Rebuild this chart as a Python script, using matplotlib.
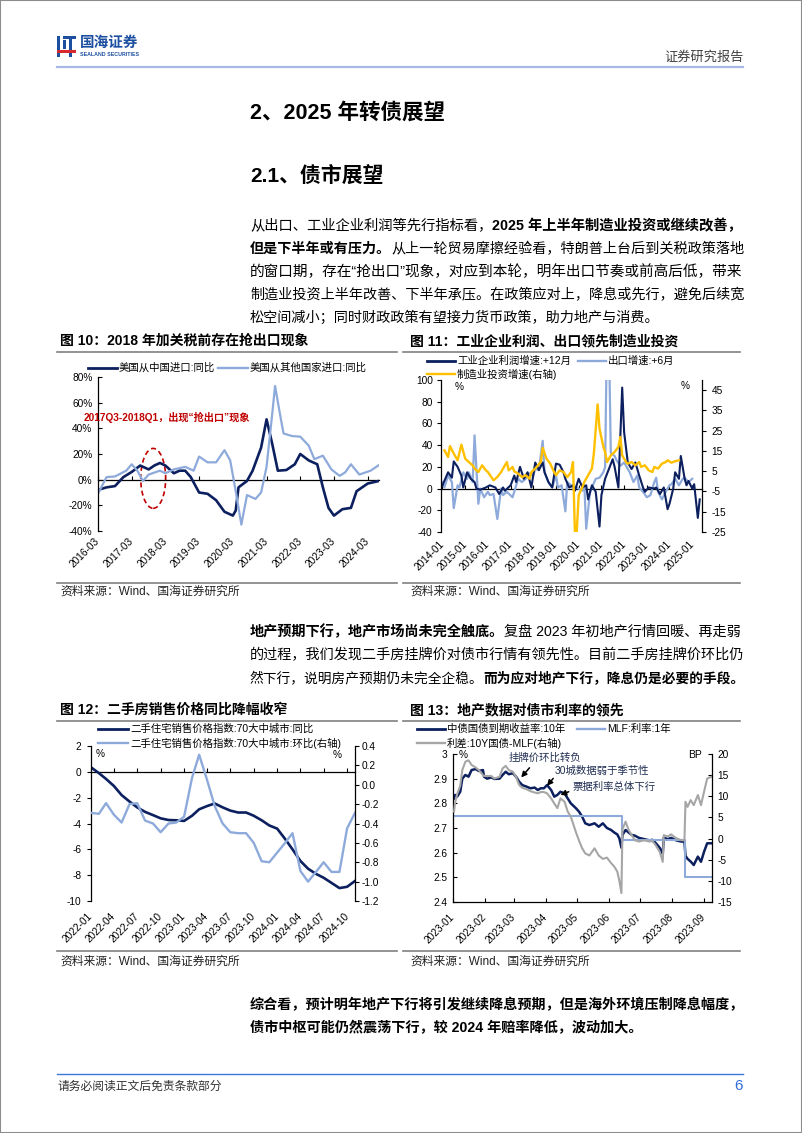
import pandas as pd
import matplotlib
matplotlib.use('Agg')
import matplotlib.pyplot as plt
import matplotlib.dates as mdates
from matplotlib.lines import Line2D
from matplotlib.patches import Ellipse, Rectangle

plt.rcParams['font.family'] = ['Liberation Sans', 'Noto Sans CJK SC', 'DejaVu Sans']
plt.rcParams['axes.unicode_minus'] = False

# ---------------- 数据 ----------------
# 图10 美国进口同比(%)
c10_cn_dates = ['2016-03', '2016-06', '2016-09', '2016-12', '2017-03', '2017-06', '2017-09', '2017-11',
                '2018-01', '2018-03', '2018-06', '2018-08', '2018-10', '2018-12', '2019-03', '2019-06',
                '2019-09', '2019-12', '2020-03', '2020-04', '2020-05', '2020-08', '2020-10', '2021-01',
                '2021-03', '2021-05', '2021-07', '2021-10', '2022-01', '2022-03', '2022-06', '2022-09',
                '2022-11', '2023-01', '2023-03', '2023-06', '2023-09', '2023-11', '2024-03', '2024-07']
c10_cn = [-8, -6, -5, 2, 6, 11, 8, 11, 13, 11, 5, 7, 7, 2, -10, -11, -16, -25, -28, -24,
          -6, -1, 7, 25, 47, 28, 7, 7.5, 12, 20, 15, 12, -6, -22, -28, -23, -22, -9, -3, -1]
c10_ot_dates = ['2016-03', '2016-06', '2016-09', '2017-01', '2017-03', '2017-05', '2017-07', '2017-09',
                '2018-01', '2018-03', '2018-06', '2018-10', '2019-01', '2019-03', '2019-06', '2019-09',
                '2019-12', '2020-02', '2020-04', '2020-06', '2020-08', '2020-11', '2021-01', '2021-03',
                '2021-05', '2021-06', '2021-08', '2021-09', '2021-12', '2022-03', '2022-06', '2022-08',
                '2022-11', '2023-02', '2023-05', '2023-07', '2023-09', '2023-12', '2024-04', '2024-07']
c10_ot = [-11, 2, 2.5, 7, 12, 7, -1, 4, 7, 5, 8, 10, 7, 18, 13.5, 13.5, 23, 15, -9, -35,
          -12, -15, -10, 10, 51, 73, 48, 36, 34, 33.5, 26.5, 16, 18.7, 8, 3, 5.7, 12, 4, 7, 11.4]
c10_labels = ['美国从中国进口:同比', '美国从其他国家进口:同比']
c10_ticks = ['2016-03', '2017-03', '2018-03', '2019-03', '2020-03', '2021-03', '2022-03', '2023-03', '2024-03']

# 图11 (月份序号, 以2014-01为0)
c11_profit_m = [0, 3, 5, 6, 8, 10, 11, 13, 15, 17, 18, 20, 23, 25, 28, 30, 32, 33, 36, 38, 39, 41, 43, 45, 47,
                49, 51, 53, 54, 56, 58, 60, 62, 64, 65, 67, 69, 70, 72, 74, 76, 77, 79, 81, 83, 84, 86, 88,
                90, 91, 93, 95, 96, 98, 100, 102, 104, 106, 107, 109, 112, 113, 115, 117, 119, 120, 122,
                123, 125, 126, 128, 129, 130, 132, 133, 135, 136]
c11_profit = [3, 15, 10, 25, 20, 12, 1, 15, 9, 6, 0, -1, 1, 3, 1, -5, 1, -2, 3, 12, 6, 20, 9, 15, 1,
              24, 17, 24, 15, 6, 1, 23, 22, 15, 9, 1, 3, -2, 9, 1, 3, -10, 3, -3, -35, -6, 9, 18,
              27, 20, 1, 93, 52, 24, 18, 24, 12, 1, -3, 1, 0, 1, -5, 1, -19, -14, 0,
              15, 9, 30, 9, 3, 7, 0, 4, -27, -10]
c11_export_m = [0, 1, 3, 5, 6, 8, 9, 11, 13, 14, 16, 17, 19, 20, 22, 24, 25, 27, 29, 31, 32, 34, 37, 39, 40,
                42, 44, 46, 48, 49, 51, 53, 54, 56, 58, 60, 61, 63, 65, 66, 68, 69, 71, 74, 75, 76, 78, 79,
                81, 83, 85, 86, 87, 88, 89, 91, 92, 94, 96, 97, 99, 101, 103, 104, 106, 108, 110, 112, 113,
                114, 116, 118, 120, 121, 123, 125, 127, 128, 130, 132]
c11_export = [6, 1, 12, 6, -18, 3, 1, 15, 9, 15, 6, 49, -14, 0, -8, -3, -6, -5, -28, 0, -6, -3, -8, 3, 9,
              6, 9, 14, 12, 18, 17, 44, 15, 6, 1, 12, 1, 3, -21, 6, 3, 0, 1, -2, 3, -37, -3, 1,
              9, 10, 15, 20, 150, 140, 33, 30, 26, 21, 24, 21, 15, 6, 12, 1, -3, -8, -6, 6, 10,
              -3, -10, -3, 3, 4, 9, 3, 9, 10, 6, 9]
c11_invest_m = [1, 3, 4, 6, 8, 10, 12, 14, 16, 17, 19, 21, 23, 24, 27, 29, 31, 32, 34, 35, 37, 38, 40, 42, 44,
                46, 47, 49, 52, 53, 55, 57, 59, 60, 62, 64, 66, 68, 69, 70, 71, 72, 74, 75, 77, 79, 80, 82,
                83, 85, 86, 87, 89, 91, 93, 94, 95, 97, 98, 100, 102, 104, 105, 107, 109, 111, 112, 114,
                116, 118, 119, 121, 123, 125]
c11_invest = [15.3, 12, 17.4, 13.7, 10.4, 18.1, 11.2, 9.5, 7.9, 6.3, 4.6, 7.9, 5.4, 4.6, 0.5, 2.1, 4.6, 6.3,
              9.5, 5.4, 7.1, 4.9, 3.8, 2.1, 3.0, 1.3, 4.6, 6.3, 9.5, 16.5, 11.2, 8.7, 4.6, 3.0, 5.4, 4.6,
              2.1, 4.6, 9.5, -24.7, -24.7, -6.9, -2.8, -0.3, 3.0, 6.3, 13.7, 38, 26, 17, 14.5, 9.5, 12.8,
              14.5, 17, 21.9, 12.8, 9.5, 8.7, 9.5, 7.9, 9.5, 7.1, 7.9, 5.4, 4.6, 7.1, 6.3, 8.7, 9.5, 10.4,
              9.2, 9.9, 10.4]
c11_labels = ['工业企业利润增速:+12月', '出口增速:+6月', '制造业投资增速(右轴)']
c11_ticks = ['2014-01', '2015-01', '2016-01', '2017-01', '2018-01', '2019-01', '2020-01', '2021-01',
             '2022-01', '2023-01', '2024-01', '2025-01']

# 图12 二手住宅价格
c12_months = pd.date_range('2022-01', periods=35, freq='MS').strftime('%Y-%m').tolist()
c12_yoy = [0.35, -0.1, -0.55, -1.1, -1.8, -2.3, -2.75, -3.1, -3.35, -3.6, -3.73, -3.75, -3.8, -3.4, -2.9,
           -2.65, -2.45, -2.75, -3.0, -3.15, -3.15, -3.4, -3.75, -4.15, -4.4, -5.2, -6.0, -6.9, -7.5, -7.9,
           -8.2, -8.6, -9.0, -8.9, -8.45]
c12_mom = [-0.29, -0.30, -0.19, -0.31, -0.39, -0.20, -0.19, -0.37, -0.40, -0.49, -0.40, -0.39, -0.33, 0.07,
           0.31, 0.05, -0.22, -0.40, -0.49, -0.50, -0.50, -0.60, -0.79, -0.80, -0.70, -0.60, -0.50, -0.89,
           -1.00, -0.90, -0.80, -0.90, -0.90, -0.45, -0.29]
c12_labels = ['二手住宅销售价格指数:70大中城市:同比', '二手住宅销售价格指数:70大中城市:环比(右轴)']
c12_ticks = ['2022-01', '2022-04', '2022-07', '2022-10', '2023-01', '2023-04', '2023-07', '2023-10',
             '2024-01', '2024-04', '2024-07', '2024-10']

# 图13 债市利率
c13_dates = ['2023-01-02', '2023-01-03', '2023-01-05', '2023-01-08', '2023-01-10', '2023-01-13', '2023-01-16',
             '2023-01-19', '2023-01-23', '2023-01-26', '2023-01-30', '2023-01-31', '2023-02-03', '2023-02-07',
             '2023-02-10', '2023-02-15', '2023-02-18', '2023-02-21', '2023-02-24', '2023-02-28', '2023-03-03',
             '2023-03-06', '2023-03-09', '2023-03-13', '2023-03-17', '2023-03-21', '2023-03-24', '2023-03-27',
             '2023-03-30', '2023-04-02', '2023-04-06', '2023-04-09', '2023-04-12', '2023-04-15', '2023-04-19',
             '2023-04-22', '2023-04-25', '2023-04-30', '2023-05-03', '2023-05-06', '2023-05-09', '2023-05-13',
             '2023-05-18', '2023-05-22', '2023-05-26', '2023-05-30', '2023-06-03', '2023-06-06', '2023-06-09',
             '2023-06-11', '2023-06-13', '2023-06-14', '2023-06-17', '2023-06-20', '2023-06-23', '2023-06-26',
             '2023-06-30', '2023-07-05', '2023-07-10', '2023-07-13', '2023-07-16', '2023-07-20', '2023-07-23',
             '2023-07-24', '2023-07-28', '2023-07-31', '2023-08-05', '2023-08-10', '2023-08-13', '2023-08-14',
             '2023-08-16', '2023-08-19', '2023-08-22', '2023-08-26', '2023-08-29', '2023-09-01', '2023-09-04',
             '2023-09-08']
c13_yield = [2.82, 2.834, 2.827, 2.847, 2.90, 2.915, 2.908, 2.935, 2.939, 2.931,
             2.935, 2.908, 2.90, 2.905, 2.899, 2.90, 2.915, 2.928, 2.918, 2.922,
             2.908, 2.888, 2.874, 2.868, 2.861, 2.864, 2.854, 2.861, 2.861, 2.874,
             2.854, 2.827, 2.834, 2.847, 2.84, 2.82, 2.80, 2.78, 2.766, 2.746,
             2.719, 2.712, 2.719, 2.705, 2.719, 2.70, 2.692, 2.682, 2.674, 2.658,
             2.62, 2.672, 2.692, 2.682, 2.672, 2.669, 2.66, 2.655, 2.65, 2.652,
             2.64, 2.62, 2.595, 2.66, 2.655, 2.66, 2.65, 2.645, 2.645, 2.587,
             2.575, 2.564, 2.55, 2.584, 2.563, 2.604, 2.638, 2.638]
c13_spread = [6.4, 8.5, 10.5, 12.5, 16.2, 18.2, 18.5, 17.4, 16.8, 16.2,
              15.0, 14.8, 14.8, 14.8, 14.2, 14.6, 16.6, 17.2, 16.2, 15.8,
              14.6, 12.7, 12.0, 11.7, 11.2, 10.9, 10.7, 11.0, 11.0, 10.7,
              9.5, 8.3, 7.2, 9.5, 8.7, 6.4, 5.2, 1.5, -0.5, -2.3,
              -3.5, -4.0, -2.3, -4.0, -4.8, -4.5, -5.8, -6.6, -7.8, -10.0,
              -12.9, 2.2, 4.0, 2.0, 0.8, -0.4, -0.7, -0.4, -0.7, -0.6,
              -1.5, -3.1, -5.5, 0.8, 0.5, 1.0, 0.1, -0.4, -0.4, 8.7,
              7.5, 9.1, 7.9, 10.3, 7.9, 11.1, 14.2, 14.6]
c13_mlf_dates = ['2023-01-01', '2023-06-14', '2023-08-14', '2023-09-09']
c13_mlf = [2.75, 2.65, 2.50, 2.50]
c13_labels = ['中债国债到期收益率:10年', 'MLF:利率:1年', '利差:10Y国债-MLF(右轴)']
c13_ticks = ['2023-01', '2023-02', '2023-03', '2023-04', '2023-05', '2023-06', '2023-07', '2023-08', '2023-09']

# ---------------- 样式 ----------------
W, H = 802, 1133
NAVY = '#0c1f5e'
LBLUE = '#8eaadb'
GOLD = '#ffc000'
GRAY = '#a6a6a6'
RED = '#c00000'
TICK = 7.3
BODY = 10.5

fig = plt.figure(figsize=(W / 100, H / 100), dpi=100)
fig.patch.set_facecolor('white')


def fx(x):
    return x / W


def fy(y):
    return 1 - y / H


def add_ax(l, t, r, b):
    return fig.add_axes([fx(l), fy(b), (r - l) / W, (b - t) / H])


def hline(x0, x1, y, color, lw):
    fig.add_artist(Line2D([fx(x0), fx(x1)], [fy(y), fy(y)], color=color, lw=lw,
                          transform=fig.transFigure))


def ftext(x, y, s, **kw):
    kw.setdefault('va', 'center')
    return fig.text(fx(x), fy(y), s, **kw)


def legend_item(x0, x1, y, color, lw, label):
    hline(x0, x1, y, color, lw)
    ftext(x1 + 2, y, label, fontsize=7.5)


def month_dates(offsets, base='2014-01'):
    p = pd.Period(base, freq='M')
    return [(p + int(o)).to_timestamp() for o in offsets]


def d2n(s):
    return mdates.date2num(pd.Timestamp(s))


def style_x(ax, ticks, xlim, pad, hide_bottom=True):
    for s in ('top', 'right'):
        ax.spines[s].set_visible(False)
    ax.spines['bottom'].set_visible(not hide_bottom)
    ax.spines['left'].set_linewidth(0.9)
    ax.set_xlim(d2n(xlim[0]), d2n(xlim[1]))
    ax.set_xticks([d2n(t) for t in ticks])
    ax.set_xticklabels(ticks, rotation=45, ha='right', va='center', rotation_mode='anchor',
                       fontsize=TICK)
    if hide_bottom:
        ax.tick_params(axis='x', length=0, pad=pad)
    else:
        ax.spines['bottom'].set_linewidth(0.9)
        ax.tick_params(axis='x', direction='in', length=3, width=0.8, pad=pad)


def zero_line(ax, ticks):
    lo, hi = ax.get_ylim()
    pos = (0 - lo) / (hi - lo)
    sec = ax.secondary_xaxis(pos)
    sec.set_xticks([d2n(t) for t in ticks])
    sec.set_xticklabels([])
    sec.tick_params(direction='in' if pos < 0.5 else 'out', length=3, width=0.8)
    for sp in sec.spines.values():
        sp.set_linewidth(0.9)


def style_right(tw, direction, pad):
    for s in ('top', 'left', 'bottom'):
        tw.spines[s].set_visible(False)
    tw.spines['right'].set_linewidth(0.9)
    tw.tick_params(axis='y', direction=direction, length=3, width=0.8, labelsize=TICK, pad=pad)


def rich_line(x, y, parts, width=None, size=BODY):
    # 两端对齐：按目标宽度微调字号
    r = fig.canvas.get_renderer()
    texts = [ftext(x, y, s, fontsize=size, fontweight='bold' if b else 'normal', color='black')
             for s, b in parts]
    widths = [t.get_window_extent(renderer=r).width for t in texts]
    if width is not None:
        k = min(max(width / sum(widths), 0.88), 1.03)
        for t in texts:
            t.set_fontsize(size * k)
        widths = [t.get_window_extent(renderer=r).width for t in texts]
    cx = x
    for t, w in zip(texts, widths):
        t.set_x(fx(cx))
        cx += w


# ---------------- 页面框架 ----------------
fig.add_artist(Rectangle((0, 0), 1, 1, transform=fig.transFigure, fill=False,
                         edgecolor='#8c8c8c', lw=1.5))
# logo
for (x0, y0, x1, y1, c) in [(57, 36, 60, 57, '#1c4fa0'), (63, 40, 66, 49, '#1c4fa0'),
                            (69, 36, 72, 57, '#1c4fa0'), (57, 50, 76, 53, '#d7282f'),
                            (63, 36, 76, 38.5, '#1c4fa0')]:
    fig.add_artist(Rectangle((fx(x0), fy(y1)), (x1 - x0) / W, (y1 - y0) / H,
                             transform=fig.transFigure, color=c, lw=0))
ftext(80, 43, '国海证券', fontsize=10.5, fontweight='bold', color='#1c4fa0')
ftext(80, 55, 'SEALAND SECURITIES', fontsize=3.8, fontweight='bold', color='#1c4fa0')
ftext(744, 57, '证券研究报告', fontsize=9.5, ha='right', color='#404040')
hline(57, 743, 67, '#a9b9e6', 1.6)

ftext(250, 113, '2、2025 年转债展望', fontsize=15.5, fontweight='bold')
ftext(250, 176, '2.1、债市展望', fontsize=15, fontweight='bold')

X0, TW = 250, 495
rich_line(X0, 226, [('从出口、工业企业利润等先行指标看，', False), ('2025 年上半年制造业投资或继续改善，', True)], TW)
rich_line(X0, 249, [('但是下半年或有压力。', True), ('从上一轮贸易摩擦经验看，特朗普上台后到关税政策落地', False)], TW)
rich_line(X0, 272, [('的窗口期，存在“抢出口”现象，对应到本轮，明年出口节奏或前高后低，带来', False)], TW)
rich_line(X0, 295, [('制造业投资上半年改善、下半年承压。在政策应对上，降息或先行，避免后续宽', False)], TW)
rich_line(X0, 318, [('松空间减小；同时财政政策有望接力货币政策，助力地产与消费。', False)], size=10.2)

rich_line(X0, 632, [('地产预期下行，地产市场尚未完全触底。', True), ('复盘 2023 年初地产行情回暖、再走弱', False)], TW)
rich_line(X0, 655, [('的过程，我们发现二手房挂牌价对债市行情有领先性。目前二手房挂牌价环比仍', False)], TW)
rich_line(X0, 678, [('然下行，说明房产预期仍未完全企稳。', False), ('而为应对地产下行，降息仍是必要的手段。', True)], TW)

rich_line(X0, 1005, [('综合看，预计明年地产下行将引发继续降息预期，但是海外环境压制降息幅度，', True)], TW)
rich_line(X0, 1028, [('债市中枢可能仍然震荡下行，较 2024 年赔率降低，波动加大。', True)], size=10.2)

hline(57, 743, 1074, '#3a78d8', 1.0)
ftext(57, 1087, '请务必阅读正文后免责条款部分', fontsize=8.5, color='#333333')
ftext(743, 1086, '6', fontsize=11, ha='right', color='#2e6fd8')

# 图表标题与来源
for (x, y, s) in [(60, 341, '图 10：2018 年加关税前存在抢出口现象'),
                  (410, 341, '图 11：工业企业利润、出口领先制造业投资'),
                  (60, 710, '图 12：二手房销售价格同比降幅收窄'),
                  (410, 710, '图 13：地产数据对债市利率的领先')]:
    ftext(x, y, s, fontsize=10, fontweight='bold')
for y in (352, 721, 583, 951):
    hline(57, 397, y, '#808080', 1.2)
    hline(403, 740, y, '#808080', 1.2)
for (x, y) in [(60, 592), (410, 592), (60, 962), (410, 962)]:
    ftext(x, y, '资料来源：Wind、国海证券研究所', fontsize=8.5, color='#222222')

# ---------------- 图10 ----------------
ax10 = add_ax(98, 377, 379, 531)
ax10.plot(pd.to_datetime(c10_cn_dates), c10_cn, color=NAVY, lw=1.9)
ax10.plot(pd.to_datetime(c10_ot_dates), c10_ot, color=LBLUE, lw=1.6)
ax10.set_ylim(-40, 80)
ax10.set_yticks(range(-40, 81, 20))
ax10.set_yticklabels([f'{v}%' for v in range(-40, 81, 20)])
ax10.tick_params(axis='y', direction='in', length=3, width=0.8, labelsize=TICK, pad=4)
style_x(ax10, c10_ticks, ('2016-03', '2024-07'), pad=6)
zero_line(ax10, c10_ticks)
ax10.add_patch(Ellipse((d2n('2017-10-20'), 1), width=270, height=46.7, fill=False,
                       edgecolor=RED, lw=1.2, ls=(0, (3, 2))))
ax10.text(d2n('2015-10-01'), 48.5, '2017Q3-2018Q1，出现“抢出口”现象', color=RED,
          fontsize=7.3, fontweight='bold', va='center', clip_on=False)
legend_item(88, 117, 368, NAVY, 2.0, c10_labels[0])
legend_item(218, 248, 368, LBLUE, 1.7, c10_labels[1])

# ---------------- 图11 ----------------
ax11 = add_ax(441, 380, 702, 532)
ax11.plot(month_dates(c11_export_m), c11_export, color=LBLUE, lw=1.6)
ax11.plot(month_dates(c11_profit_m), c11_profit, color=NAVY, lw=1.5)
ax11.set_ylim(-40, 100)
ax11.set_yticks(range(-40, 101, 20))
ax11.tick_params(axis='y', direction='out', length=3, width=0.8, labelsize=TICK, pad=3)
style_x(ax11, c11_ticks, ('2013-12-08', '2025-06-07'), pad=8)
zero_line(ax11, c11_ticks)
tw11 = ax11.twinx()
tw11.plot(month_dates(c11_invest_m), c11_invest, color=GOLD, lw=1.7)
tw11.set_ylim(-25, 50)
tw11.set_yticks(range(-25, 46, 10))
style_right(tw11, 'out', 4)
ftext(455, 387, '%', fontsize=7.3)
ftext(681, 386, '%', fontsize=7.3)
legend_item(427, 455, 361, NAVY, 2.0, c11_labels[0])
legend_item(578, 606, 361, LBLUE, 1.7, c11_labels[1])
legend_item(427, 455, 374, GOLD, 1.7, c11_labels[2])

# ---------------- 图12 ----------------
ax12 = add_ax(91, 746, 355, 901)
ax12.plot(pd.to_datetime(c12_months), c12_yoy, color=NAVY, lw=1.9)
ax12.set_ylim(-10, 2)
ax12.set_yticks(range(-10, 3, 2))
ax12.tick_params(axis='y', direction='out', length=3, width=0.8, labelsize=TICK, pad=4)
style_x(ax12, c12_ticks, ('2022-01', '2024-11'), pad=10)
zero_line(ax12, c12_ticks)
tw12 = ax12.twinx()
tw12.plot(pd.to_datetime(c12_months), c12_mom, color=LBLUE, lw=1.7)
c12_rticks = [-1.2, -1.0, -0.8, -0.6, -0.4, -0.2, 0.0, 0.2, 0.4]
tw12.set_ylim(-1.2, 0.4)
tw12.set_yticks(c12_rticks)
tw12.set_yticklabels([f'{v:.1f}' for v in c12_rticks])
style_right(tw12, 'out', 2)
ftext(96, 754, '%', fontsize=7.3)
ftext(333, 755, '%', fontsize=7.3)
legend_item(98, 128, 729, NAVY, 2.0, c12_labels[0])
legend_item(98, 128, 743, LBLUE, 1.7, c12_labels[1])

# ---------------- 图13 ----------------
ax13 = add_ax(453, 754, 712, 902)
ax13.plot(pd.to_datetime(c13_dates), c13_yield, color=NAVY, lw=1.8)
ax13.plot(pd.to_datetime(c13_mlf_dates), c13_mlf, color=LBLUE, lw=1.5, drawstyle='steps-post')
ax13.set_ylim(2.4, 3.0)
c13_lticks = [2.4, 2.5, 2.6, 2.7, 2.8, 2.9, 3.0]
ax13.set_yticks(c13_lticks)
ax13.set_yticklabels([f'{v:g}' for v in c13_lticks])
ax13.tick_params(axis='y', direction='in', length=3, width=0.8, labelsize=TICK, pad=4)
style_x(ax13, c13_ticks, ('2023-01-01', '2023-09-08 16:00'), pad=10, hide_bottom=False)
tw13 = ax13.twinx()
tw13.plot(pd.to_datetime(c13_dates), c13_spread, color=GRAY, lw=1.5)
tw13.set_ylim(-15, 20)
tw13.set_yticks(range(-15, 21, 5))
style_right(tw13, 'in', 4)
for (txt, tpos, tail, head) in [
        ('挂牌价环比转负', ('2023-02-24', 2.983), ('2023-03-16', 2.944), ('2023-03-08', 2.905)),
        ('30城数据弱于季节性', ('2023-04-09', 2.931), ('2023-04-08', 2.901), ('2023-04-02', 2.871)),
        ('票据利率总体下行', ('2023-04-27', 2.867), ('2023-04-23', 2.847), ('2023-04-15', 2.834))]:
    ax13.annotate('', xy=(d2n(head[0]), head[1]), xytext=(d2n(tail[0]), tail[1]),
                  arrowprops=dict(arrowstyle='-|>', color='black', lw=1.1, mutation_scale=8,
                                  shrinkA=0, shrinkB=0))
    ax13.text(d2n(tpos[0]), tpos[1], txt, fontsize=7.5, color='#1f2d50', va='center')
ftext(459, 755, '%', fontsize=7.3)
ftext(688, 755, 'BP', fontsize=7.5)
legend_item(417, 445, 729, NAVY, 2.0, c13_labels[0])
legend_item(577, 605, 729, LBLUE, 1.7, c13_labels[1])
legend_item(417, 445, 743, GRAY, 1.7, c13_labels[2])

fig.savefig('out.png', dpi=100)
